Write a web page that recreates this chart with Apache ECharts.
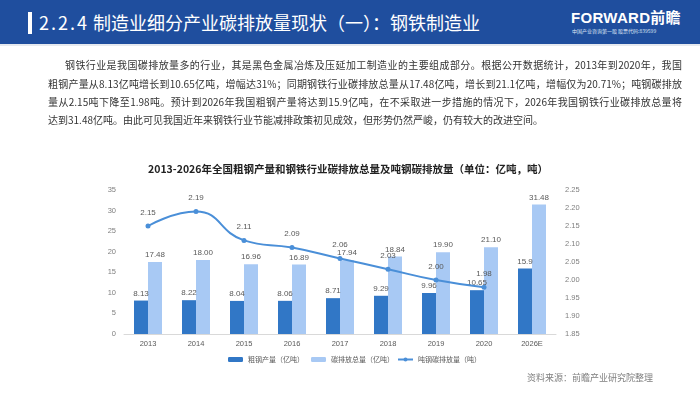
<!DOCTYPE html>
<html>
<head>
<meta charset="utf-8">
<script src="https://cdn.jsdelivr.net/npm/echarts@6/dist/echarts.min.js"></script>
<style>
  html, body { margin: 0; padding: 0; background: #fff; }
  #wrap { position: relative; width: 700px; height: 393px; overflow: hidden; font-family: "Noto Sans CJK SC", sans-serif; }
  #chart { position: absolute; left: 0; top: 0; width: 700px; height: 393px; }
  .band { position: absolute; left: 0; top: 0; width: 700px; height: 44px; background: #1f4e9e; }
  .strip { position: absolute; left: 0; top: 44px; width: 700px; height: 2px; background: #e6e9ef; }
  .bar { position: absolute; left: 28px; top: 12px; width: 4px; height: 22px; background: #fff; }
  .htitle { position: absolute; left: 39px; top: 9px; color: #fff; font-size: 18px; line-height: 26px; white-space: nowrap; }
  .htitle .num { letter-spacing: 2px; margin-right: 4px; }
  .logo { position: absolute; left: 571px; top: 9px; color: #fff; font-size: 15px; font-weight: bold; line-height: 18px; font-family: "Liberation Sans", "Noto Sans CJK SC", sans-serif; letter-spacing: 0.3px; }
  .logosub { position: absolute; left: 572px; top: 28px; color: #dfe7f5; font-size: 5px; line-height: 6px; white-space: nowrap; }
  .pline { position: absolute; font-size: 10px; color: #333; line-height: 14px; white-space: nowrap; text-align: justify; text-align-last: justify; }
</style>
</head>
<body>
<div id="wrap">
  <div id="chart"></div>
  <div class="band"></div>
  <div class="strip"></div>
  <div class="bar"></div>
  <div class="htitle"><span class="num">2.2.4</span>制造业细分产业碳排放量现状（一）：钢铁制造业</div>
  <div class="logo">FORWARD前瞻</div>
  <div class="logosub">中国产业咨询第一股 股票代码:839599</div>
  <div class="pline" style="left:65px;top:58px;width:617px;">钢铁行业是我国碳排放量多的行业，其是黑色金属冶炼及压延加工制造业的主要组成部分。根据公开数据统计，2013年到2020年，我国</div>
  <div class="pline" style="left:48px;top:77px;width:634px;">粗钢产量从8.13亿吨增长到10.65亿吨，增幅达31%；同期钢铁行业碳排放总量从17.48亿吨，增长到21.1亿吨，增幅仅为20.71%；吨钢碳排放</div>
  <div class="pline" style="left:48px;top:95px;width:634px;">量从2.15吨下降至1.98吨。预计到2026年我国粗钢产量将达到15.9亿吨，在不采取进一步措施的情况下，2026年我国钢铁行业碳排放总量将</div>
  <div class="pline" style="left:48px;top:113px;text-align-last:left;">达到31.48亿吨。由此可见我国近年来钢铁行业节能减排政策初见成效，但形势仍然严峻，仍有较大的改进空间。</div>
</div>
<script>
var categories = ['2013', '2014', '2015', '2016', '2017', '2018', '2019', '2020', '2026E'];
var steelOutput = [8.13, 8.22, 8.04, 8.06, 8.71, 9.29, 9.96, 10.65, 15.9];
var totalEmission = [17.48, 18.00, 16.96, 16.89, 17.94, 18.84, 19.90, 21.10, 31.48];
var perTonEmission = [2.15, 2.19, 2.11, 2.09, 2.06, 2.03, 2.00, 1.98, '-'];
var seriesNames = ['粗钢产量（亿吨）', '碳排放总量（亿吨）', '吨钢碳排放量（吨）'];
var leftTicks = { min: 0, max: 35, interval: 5 };
var rightTicks = { min: 1.85, max: 2.25, interval: 0.05 };

var chart = echarts.init(document.getElementById('chart'), null, { renderer: 'canvas' });
var labelStyle = { fontSize: 8, color: '#595959', fontFamily: 'Liberation Sans, Arial, sans-serif' };
var legendText = { fontSize: 7, color: '#595959', fontFamily: 'Noto Sans CJK SC' };
chart.setOption({
  animation: false,
  backgroundColor: 'transparent',
  title: {
    text: '2013-2026年全国粗钢产量和钢铁行业碳排放总量及吨钢碳排放量（单位：亿吨，吨）',
    left: 343, top: 159, textAlign: 'center',
    textStyle: { fontSize: 10.5, fontWeight: 'bold', color: '#222', fontFamily: 'Noto Sans CJK SC' }
  },
  legend: [
    { data: [seriesNames[0]], left: 223, top: 351, itemWidth: 15, itemHeight: 5, itemGap: 4, textStyle: legendText },
    { data: [seriesNames[1]], left: 306, top: 351, itemWidth: 15, itemHeight: 5, itemGap: 4, textStyle: legendText },
    { data: [seriesNames[2]], left: 392, top: 351, itemWidth: 15, itemHeight: 5, itemGap: 4, textStyle: legendText }
  ],
  graphic: [
    { type: 'text', right: 47, top: 373, style: { text: '资料来源：前瞻产业研究院整理', fontSize: 9, fill: '#7f7f7f', fontFamily: 'Noto Sans CJK SC' } }
  ],
  grid: { left: 124, right: 144, top: 190, bottom: 59, containLabel: false },
  xAxis: {
    type: 'category', data: categories,
    axisLine: { lineStyle: { color: '#d9d9d9' } },
    axisTick: { show: false },
    axisLabel: { fontSize: 7.5, color: '#595959', margin: 6, fontFamily: 'Liberation Sans, Arial, sans-serif' }
  },
  yAxis: [
    {
      type: 'value', min: leftTicks.min, max: leftTicks.max, interval: leftTicks.interval,
      axisLine: { show: false }, axisTick: { show: false }, splitLine: { show: false },
      axisLabel: { fontSize: 7.5, color: '#7f7f7f', margin: 8, fontFamily: 'Liberation Sans, Arial, sans-serif' }
    },
    {
      type: 'value', min: rightTicks.min, max: rightTicks.max, interval: rightTicks.interval,
      axisLine: { show: false }, axisTick: { show: false }, splitLine: { show: false },
      axisLabel: { fontSize: 7.5, color: '#7f7f7f', margin: 9, fontFamily: 'Liberation Sans, Arial, sans-serif',
        formatter: function (v) { return v.toFixed(2); } }
    }
  ],
  series: [
    {
      name: seriesNames[0], type: 'bar', data: steelOutput, barWidth: 14, barGap: '0%',
      itemStyle: { color: '#3177c6' },
      label: Object.assign({ show: true, position: 'top', distance: 3 }, labelStyle)
    },
    {
      name: seriesNames[1], type: 'bar', data: totalEmission, barWidth: 14, barGap: '0%',
      itemStyle: { color: '#a8c9f4' },
      label: Object.assign({ show: true, position: 'top', distance: 3, formatter: function (p) { return p.value.toFixed(2); } }, labelStyle)
    },
    {
      name: seriesNames[2], type: 'line', yAxisIndex: 1, data: perTonEmission, smooth: 0.5,
      symbol: 'circle', symbolSize: 5,
      lineStyle: { color: '#4a8fd8', width: 2 },
      itemStyle: { color: '#4a8fd8' },
      label: Object.assign({ show: true, position: 'top', distance: 7, formatter: function (p) { return Number(p.value).toFixed(2); } }, labelStyle)
    }
  ]
});
</script>
</body>
</html>
